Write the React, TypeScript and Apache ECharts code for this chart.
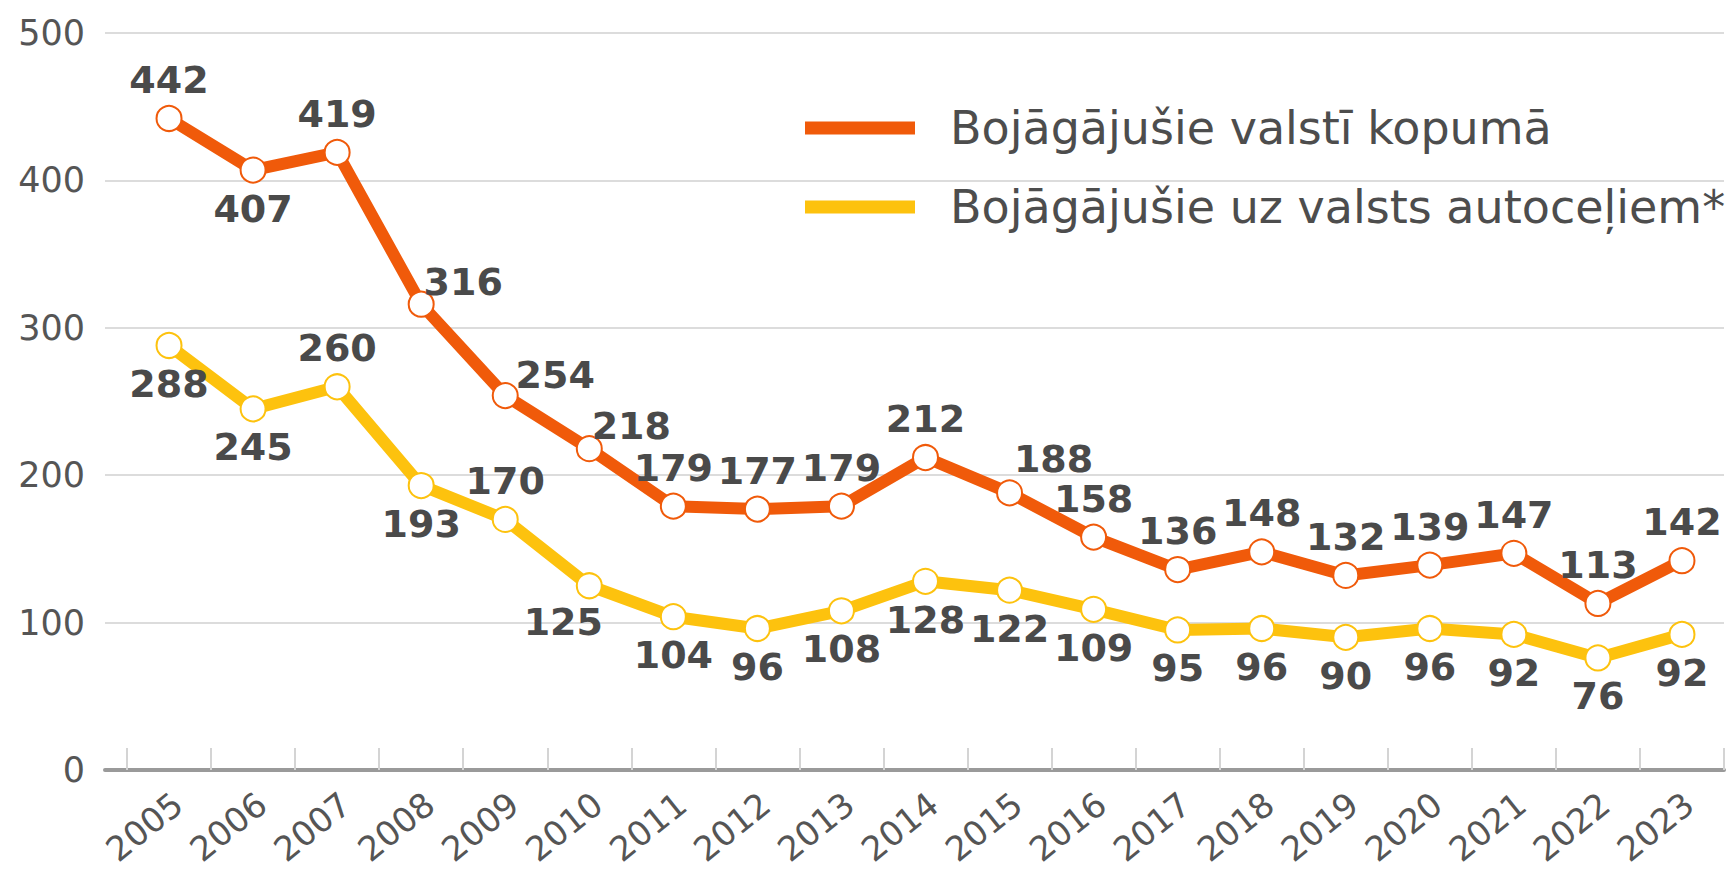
import React, { useEffect, useRef } from "react";
import * as echarts from "echarts";

const years = ["2005","2006","2007","2008","2009","2010","2011","2012","2013","2014","2015","2016","2017","2018","2019","2020","2021","2022","2023"];
const totalInjured = [442,407,419,316,254,218,179,177,179,212,188,158,136,148,132,139,147,113,142];
const stateRoadInjured = [288,245,260,193,170,125,104,96,108,128,122,109,95,96,90,96,92,76,92];
const seriesNames = ["Bojāgājušie valstī kopumā", "Bojāgājušie uz valsts autoceļiem*"];
const yMin = 0;
const yMax = 500;
const yStep = 100;

// label placement per point: t = above, b = below, tr* = above-right, bl = below-left
const totalPlacement = ["t","b","t","tr1","tr2","tr1","t","t","t","t","tr3","t","t","t","t","t","t","t","t"];
const roadPlacement = ["b","b","t","b","t","bl","b","b","b","b","b","b","b","b","b","b","b","b","b"];

const ORANGE = "#F05A0A";
const YELLOW = "#FDC20E";
const LABEL_COLOR = "#4a4a4a";
const FONT = "'DejaVu Sans', sans-serif";

function labelFor(p: string) {
  const base: any = {
    show: true,
    color: LABEL_COLOR,
    fontFamily: FONT,
    fontWeight: "bold",
    fontSize: 38,
    distance: 6,
  };
  if (p === "t") return { ...base, position: "top" };
  if (p === "b") return { ...base, position: "bottom" };
  if (p === "tr1") return { ...base, position: "top", offset: [42, 16] };
  if (p === "tr2") return { ...base, position: "top", offset: [50, 18] };
  if (p === "tr3") return { ...base, position: "top", offset: [44, 5] };
  if (p === "bl") return { ...base, position: "bottom", offset: [-26, -2] };
  return base;
}

export default function App() {
  const ref = useRef<HTMLDivElement>(null);
  useEffect(() => {
    document.body.style.margin = "0";
    const chart = echarts.init(ref.current!, null, { renderer: "svg" });
    const plotTop = 33;
    const plotBottom = 99;
    const option: any = {
      animation: false,
      backgroundColor: "#ffffff",
      grid: [
        { left: 127, right: 7, top: plotTop, bottom: plotBottom },
        { left: 105, right: 7, top: plotTop, bottom: plotBottom },
        { left: 136, right: -2, top: plotTop, bottom: plotBottom },
      ],
      xAxis: [
        {
          gridIndex: 0,
          type: "category",
          data: years,
          boundaryGap: true,
          axisLine: { show: false },
          axisTick: { show: true, inside: true, length: 22, lineStyle: { color: "#d4d4d4", width: 2 } },
          axisLabel: { show: false },
          splitLine: { show: false },
          z: 3,
        },
        {
          gridIndex: 1,
          type: "value",
          min: 0,
          max: 1,
          axisLine: { show: true, onZero: false, lineStyle: { color: "#9a9a9a", width: 4 } },
          axisTick: { show: false },
          axisLabel: { show: false },
          splitLine: { show: false },
        },
        {
          gridIndex: 2,
          type: "category",
          data: years,
          boundaryGap: true,
          axisLine: { show: false },
          axisTick: { show: false },
          axisLabel: {
            show: true,
            rotate: 39,
            margin: 34,
            interval: 0,
            color: "#555555",
            fontFamily: FONT,
            fontSize: 34,
          },
          splitLine: { show: false },
        },
      ],
      yAxis: [
        {
          gridIndex: 0,
          type: "value",
          min: yMin,
          max: yMax,
          interval: yStep,
          show: false,
          splitLine: { show: false },
        },
        {
          gridIndex: 1,
          type: "value",
          min: yMin,
          max: yMax,
          interval: yStep,
          axisLine: { show: false },
          axisTick: { show: false },
          axisLabel: {
            show: true,
            margin: 20,
            color: "#555555",
            fontFamily: FONT,
            fontSize: 35,
          },
          splitLine: { show: true, lineStyle: { color: "#dcdcdc", width: 2 } },
        },
        {
          gridIndex: 2,
          type: "value",
          min: yMin,
          max: yMax,
          interval: yStep,
          show: false,
          splitLine: { show: false },
        },
      ],
      legend: {
        show: true,
        orient: "vertical",
        left: 800,
        top: 100,
        icon: "rect",
        itemWidth: 110,
        itemHeight: 13,
        itemGap: 33,
        itemStyle: { borderWidth: 0 },
        data: seriesNames,
        textStyle: {
          color: "#4d4d4d",
          fontFamily: FONT,
          fontSize: 46,
          padding: [0, 0, 0, 30],
        },
      },
      series: [
        {
          name: seriesNames[0],
          type: "line",
          xAxisIndex: 0,
          yAxisIndex: 0,
          symbol: "emptyCircle",
          symbolSize: 25,
          color: ORANGE,
          lineStyle: { color: ORANGE, width: 12 },
          itemStyle: { color: ORANGE, borderColor: ORANGE, borderWidth: 6 },
          data: totalInjured.map((v, i) => ({ value: v, label: labelFor(totalPlacement[i]) })),
          z: 5,
        },
        {
          name: seriesNames[1],
          type: "line",
          xAxisIndex: 0,
          yAxisIndex: 0,
          symbol: "emptyCircle",
          symbolSize: 25,
          color: YELLOW,
          lineStyle: { color: YELLOW, width: 12 },
          itemStyle: { color: YELLOW, borderColor: YELLOW, borderWidth: 6 },
          data: stateRoadInjured.map((v, i) => ({ value: v, label: labelFor(roadPlacement[i]) })),
          z: 4,
        },
      ],
    };
    chart.setOption(option);
    return () => chart.dispose();
  }, []);
  return (
    <div
      ref={ref}
      style={{ position: "fixed", left: 0, top: 0, width: 1731, height: 869 }}
    />
  );
}
